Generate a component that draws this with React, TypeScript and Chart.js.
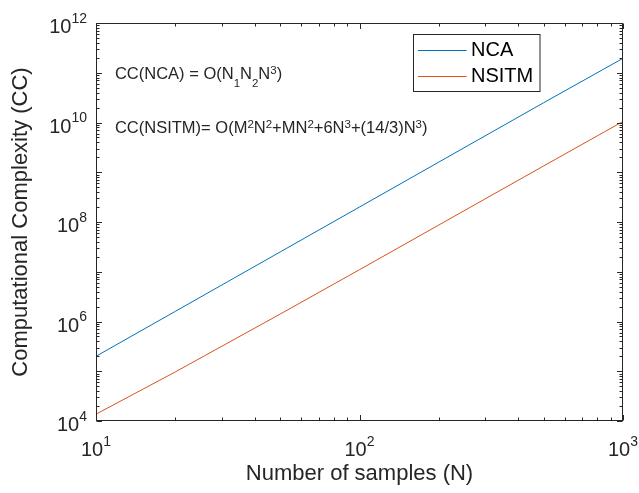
import React, { useEffect, useRef } from "react";
import { Chart, registerables } from "chart.js";

Chart.register(...registerables);

// ---- data ----
const N_VALUES = [10, 20, 50, 100, 200, 500, 1000];
const NCA_CC = [2.0e5, 1.6e6, 2.5e7, 2.0e8, 1.6e9, 2.5e10, 1.95e11];
const NSITM_CC = [1.37e4, 9.7e4, 1.41e6, 1.1e7, 8.7e7, 1.34e9, 1.05e10];

const SERIES_LABELS = ["NCA", "NSITM"];
const SERIES_COLORS = ["#0072BD", "#D95319"];

const X_MIN = 10;
const X_MAX = 1000;
const Y_MIN = 1e4;
const Y_MAX = 1e12;
const X_TICK_EXPONENTS = [1, 2, 3];
const Y_TICK_EXPONENTS = [4, 6, 8, 10, 12];
const TICK_BASE = "10";

const X_TITLE = "Number of samples (N)";
const Y_TITLE = "Computational Complexity (CC)";

// formula annotations: [text, mode] mode 0 normal, 1 superscript, -1 subscript
const NCA_FORMULA: [string, number][] = [
  ["CC(NCA) = O(N", 0], ["1", -1], ["N", 0], ["2", -1], ["N", 0], ["3", 1], [")", 0],
];
const NSITM_FORMULA: [string, number][] = [
  ["CC(NSITM)= O(M", 0], ["2", 1], ["N", 0], ["2", 1], ["+MN", 0], ["2", 1],
  ["+6N", 0], ["3", 1], ["+(14/3)N", 0], ["3", 1], [")", 0],
];
const ANNOT_X = 11.8;
const NCA_ANNOT_Y = 1e11;
const NSITM_ANNOT_Y = 8e9;

const FONT = '"Liberation Sans", Arial, Helvetica, sans-serif';
const INK = "#262626";

function font(size: number) {
  return `${size}px ${FONT}`;
}

function drawPower(ctx: CanvasRenderingContext2D, exp: string, x: number, midY: number, align: string) {
  const bs = 20, es = 14;
  ctx.font = font(bs);
  const bw = ctx.measureText(TICK_BASE).width;
  ctx.font = font(es);
  const ew = ctx.measureText(exp).width;
  const total = bw + ew;
  let sx = x;
  if (align === "right") sx = x - total;
  else if (align === "center") sx = x - total / 2;
  const baseline = midY + 0.716 * bs / 2;
  ctx.textAlign = "left";
  ctx.textBaseline = "alphabetic";
  ctx.font = font(bs);
  ctx.fillText(TICK_BASE, sx, baseline);
  ctx.font = font(es);
  ctx.fillText(exp, sx + bw, baseline - 10.5);
}

function drawFormula(ctx: CanvasRenderingContext2D, segs: [string, number][], x: number, midY: number) {
  const fs = 16.5, ss = 11.5;
  const baseline = midY + 0.716 * fs / 2;
  let cx = x;
  ctx.textAlign = "left";
  ctx.textBaseline = "alphabetic";
  for (const [t, m] of segs) {
    if (m === 0) {
      ctx.font = font(fs);
      ctx.fillText(t, cx, baseline);
    } else {
      ctx.font = font(ss);
      ctx.fillText(t, cx, m > 0 ? baseline - 5 : baseline + 8.5);
    }
    cx += ctx.measureText(t).width;
  }
}

const decorPlugin = {
  id: "matlabDecor",
  afterDraw(chart: any) {
    const ctx: CanvasRenderingContext2D = chart.ctx;
    const { left, right, top, bottom } = chart.chartArea;
    const xs = chart.scales.x;
    const ys = chart.scales.y;
    const L = Math.round(left) + 0.5;
    const R = Math.round(right) - 0.5;
    const T = Math.round(top) + 0.5;
    const B = Math.round(bottom) - 0.5;
    ctx.save();
    ctx.strokeStyle = INK;
    ctx.fillStyle = INK;
    ctx.lineWidth = 1;
    ctx.strokeRect(L, T, R - L, B - T);

    const major = 5.5, minor = 3;
    ctx.beginPath();
    for (let d = 1; d <= 3; d++) {
      for (let k = 1; k <= 9; k++) {
        const v = k * Math.pow(10, d);
        if (v < X_MIN || v > X_MAX) continue;
        const px = Math.round(xs.getPixelForValue(v)) + 0.5;
        const len = k === 1 ? major : minor;
        ctx.moveTo(px, B); ctx.lineTo(px, B - len);
        ctx.moveTo(px, T); ctx.lineTo(px, T + len);
      }
    }
    for (let d = 4; d <= 12; d++) {
      for (let k = 1; k <= 9; k++) {
        const v = k * Math.pow(10, d);
        if (v < Y_MIN || v > Y_MAX) continue;
        const py = Math.round(ys.getPixelForValue(v)) + 0.5;
        const len = k === 1 ? major : minor;
        ctx.moveTo(L, py); ctx.lineTo(L + len, py);
        ctx.moveTo(R, py); ctx.lineTo(R - len, py);
      }
    }
    ctx.stroke();

    for (const e of Y_TICK_EXPONENTS) {
      const py = ys.getPixelForValue(Math.pow(10, e));
      drawPower(ctx, String(e), left - 9, py + 3, "right");
    }
    for (const e of X_TICK_EXPONENTS) {
      const px = xs.getPixelForValue(Math.pow(10, e));
      drawPower(ctx, String(e), px, bottom + 28, "center");
    }

    ctx.font = font(22);
    ctx.textAlign = "center";
    ctx.textBaseline = "middle";
    ctx.fillText(X_TITLE, (left + right) / 2, bottom + 53);
    ctx.save();
    ctx.translate(21, (top + bottom) / 2);
    ctx.rotate(-Math.PI / 2);
    ctx.fillText(Y_TITLE, 0, 0);
    ctx.restore();

    drawFormula(ctx, NCA_FORMULA, xs.getPixelForValue(ANNOT_X), ys.getPixelForValue(NCA_ANNOT_Y));
    drawFormula(ctx, NSITM_FORMULA, xs.getPixelForValue(ANNOT_X), ys.getPixelForValue(NSITM_ANNOT_Y));

    // legend
    const bw = 126.5, bh = 57;
    const bx = Math.round(right - 84 - bw) + 0.5;
    const by = Math.round(top + 11) + 0.5;
    ctx.fillStyle = "#ffffff";
    ctx.fillRect(bx, by, bw, bh);
    ctx.strokeStyle = INK;
    ctx.strokeRect(bx, by, bw, bh);
    const rows = [by + 15, by + 41];
    SERIES_LABELS.forEach((lab, i) => {
      ctx.strokeStyle = SERIES_COLORS[i];
      ctx.beginPath();
      ctx.moveTo(bx + 4.5, Math.round(rows[i]) + 0.5);
      ctx.lineTo(bx + 53, Math.round(rows[i]) + 0.5);
      ctx.stroke();
      ctx.fillStyle = "#000000";
      ctx.font = font(20);
      ctx.textAlign = "left";
      ctx.textBaseline = "middle";
      ctx.fillText(lab, bx + 57.5, rows[i] + 1);
    });
    ctx.restore();
  },
};

export default function App() {
  const ref = useRef<HTMLCanvasElement | null>(null);
  useEffect(() => {
    document.body.style.margin = "0";
    const canvas = ref.current;
    if (!canvas) return;
    const chart = new Chart(canvas, {
      type: "line",
      data: {
        datasets: [
          {
            label: SERIES_LABELS[0],
            data: N_VALUES.map((n, i) => ({ x: n, y: NCA_CC[i] })),
            borderColor: SERIES_COLORS[0],
            borderWidth: 1,
            pointRadius: 0,
            tension: 0,
          },
          {
            label: SERIES_LABELS[1],
            data: N_VALUES.map((n, i) => ({ x: n, y: NSITM_CC[i] })),
            borderColor: SERIES_COLORS[1],
            borderWidth: 1,
            pointRadius: 0,
            tension: 0,
          },
        ],
      },
      options: {
        animation: false,
        responsive: true,
        maintainAspectRatio: false,
        layout: { padding: { left: 96, top: 23, right: 16, bottom: 72 } },
        plugins: { legend: { display: false }, tooltip: { enabled: false } },
        scales: {
          x: { type: "logarithmic", min: X_MIN, max: X_MAX, display: false },
          y: { type: "logarithmic", min: Y_MIN, max: Y_MAX, display: false },
        },
      },
      plugins: [decorPlugin],
    });
    return () => chart.destroy();
  }, []);
  return (
    <div style={{ width: 639, height: 493, position: "relative", background: "#fff" }}>
      <canvas ref={ref} />
    </div>
  );
}
